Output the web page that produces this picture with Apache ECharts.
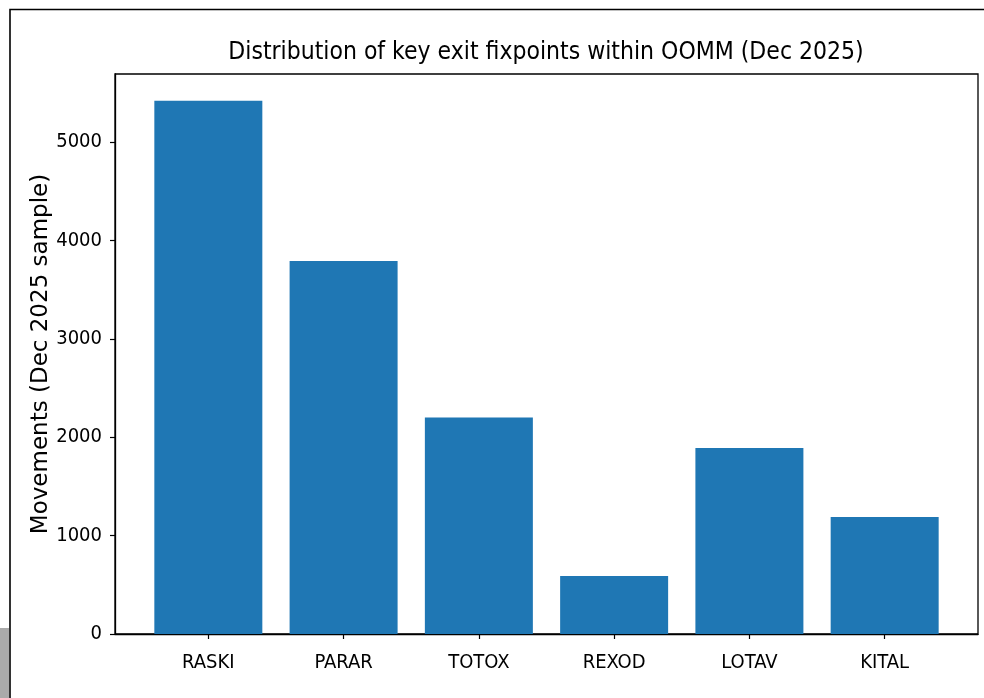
<!DOCTYPE html>
<html>
<head>
<meta charset="utf-8">
<script src="https://cdn.jsdelivr.net/npm/echarts@6/dist/echarts.min.js"></script>
<style>
    html, body { margin: 0; padding: 0; background: #fff }
    #chart { width: 984px; height: 698px }
</style>
</head>
<body>
<div id="chart"></div>
<script>
const FIXPOINTS = ["RASKI", "PARAR", "TOTOX", "REXOD", "LOTAV", "KITAL"]
const MOVEMENTS = [5420, 3790, 2200, 590, 1890, 1190]
const Y_TICKS = [0, 1000, 2000, 3000, 4000, 5000]
const TITLE = "Distribution of key exit fixpoints within OOMM (Dec 2025)"
const Y_NAME = "Movements (Dec 2025 sample)"

const NARROW = "'DejaVu Sans Condensed', 'DejaVu Sans', sans-serif"
const X_IDX = FIXPOINTS.map((_, i) => i)
// matplotlib style limits: bars of 0.8 with 5% margins
const yMax = Math.max(...MOVEMENTS) * 1.05

const chart = echarts.init(document.getElementById("chart"))
chart.setOption({
    animation: false,
    backgroundColor: "#fff",
    title: {
        text: TITLE, left: 541, top: 35, textAlign: "center",
        textStyle: { fontFamily: NARROW, fontSize: 24.5, fontWeight: "normal", color: "#000" }
    },
    grid: { left: 115, right: 6, top: 74, bottom: 64, show: true, borderColor: "#000", borderWidth: 1.3 },
    xAxis: {
        type: "value", min: -0.69, max: 5.69,
        splitLine: { show: false },
        axisLine: { show: true, onZero: false, lineStyle: { color: "#000", width: 1.3 } },
        axisTick: { show: true, length: 5, customValues: X_IDX, lineStyle: { color: "#000", width: 1.2 } },
        axisLabel: {
            customValues: X_IDX, margin: 19, formatter: v => FIXPOINTS[Math.round(v)] || "",
            fontFamily: NARROW, fontSize: 20, color: "#000"
        }
    },
    yAxis: {
        type: "value", min: 0, max: yMax,
        name: Y_NAME, nameLocation: "middle", nameGap: 62, nameMoveOverlap: false,
        nameTextStyle: { fontFamily: "'DejaVu Sans', sans-serif", fontSize: 23, color: "#000" },
        splitLine: { show: false },
        axisLine: { show: true, onZero: false, lineStyle: { color: "#000", width: 1.3 } },
        axisTick: { show: true, length: 5, customValues: Y_TICKS, lineStyle: { color: "#000", width: 1.2 } },
        axisLabel: {
            customValues: Y_TICKS, margin: 13, formatter: v => String(v),
            fontFamily: NARROW, fontSize: 20, color: "#000"
        }
    },
    series: [{
        type: "bar",
        barWidth: 108,
        itemStyle: { color: "#1f77b4" },
        data: MOVEMENTS.map((v, i) => [i, v])
    }],
    graphic: [
        { type: "rect", shape: { x: 0, y: 628, width: 9, height: 70 }, style: { fill: "#aaaaaa" } },
        { type: "polyline", shape: { points: [[10, 698], [10, 9.5], [984, 9.5]] }, style: { stroke: "#000", lineWidth: 1.6, fill: null } }
    ]
})
</script>
</body>
</html>
